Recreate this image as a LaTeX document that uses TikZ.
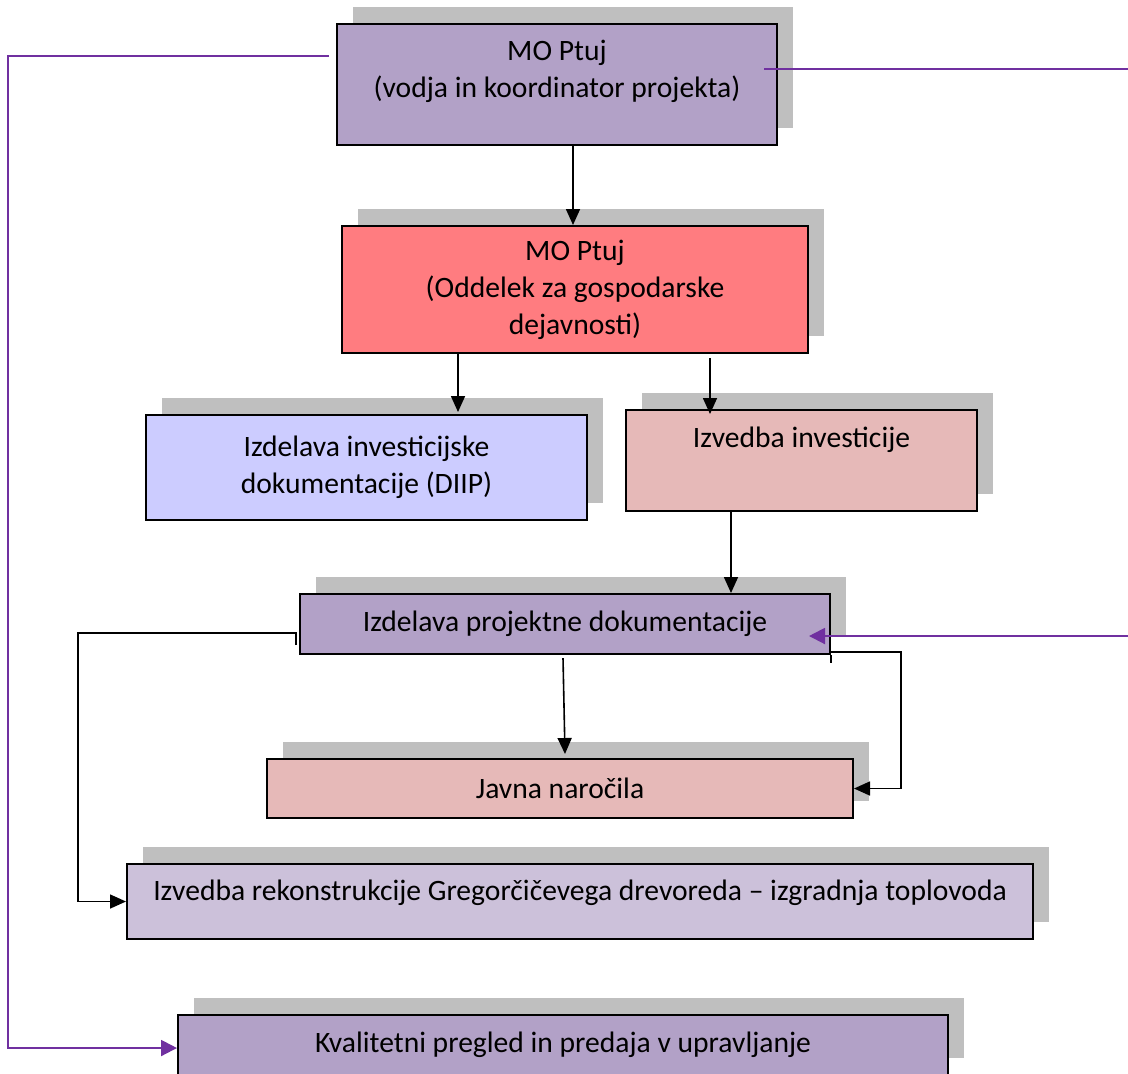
\documentclass[tikz,border=0pt]{standalone}
\usepackage{fontspec}
\setmainfont{Carlito}
\usetikzlibrary{arrows.meta,calc,shadows}
\definecolor{lilac}{HTML}{B2A1C7}
\definecolor{salmon}{HTML}{FF7C80}
\definecolor{periwinkle}{HTML}{CCCCFF}
\definecolor{rose}{HTML}{E6B9B8}
\definecolor{palelilac}{HTML}{CCC1DA}
\definecolor{shadowgray}{HTML}{BFBFBF}
\definecolor{linkpurple}{HTML}{7030A0}
\begin{document}
\begin{tikzpicture}[x=0.5pt,y=-0.5pt,
  box/.style={shape=rectangle,draw=black,line width=1pt,
    drop shadow={shadow xshift=8pt,shadow yshift=8.5pt,fill=shadowgray,opacity=1},
    font=\fontsize{14.8}{18.5}\selectfont,align=center,inner sep=0pt},
  txt/.style={font=\fontsize{14.8}{18.5}\selectfont,align=center,inner sep=0pt},
  arr/.style={line width=0.8pt,-{Triangle[length=8pt,width=7pt]}},
  pline/.style={draw=linkpurple,line width=1pt},
  parr/.style={pline,-{Triangle[length=8pt,width=8pt]}}]
\useasboundingbox (0,0) rectangle (1128,1073);

\node[box,fill=lilac,minimum width=220pt,minimum height=60.5pt] (koord) at (557,84.5) {};
\node[txt] (koordT) at (557,71) {MO Ptuj\\(vodja in koordinator projekta)};

\node[box,fill=salmon,minimum width=233pt,minimum height=63.5pt] (oddelek) at (575,289.5) {MO Ptuj\\(Oddelek za gospodarske\\dejavnosti)};

\node[box,fill=periwinkle,minimum width=220.5pt,minimum height=52.5pt] (dokum) at (366.5,467.5) {Izdelava investicijske\\dokumentacije (DIIP)};

\node[box,fill=rose,minimum width=175.5pt,minimum height=50.5pt] (izvedba) at (801.5,460.5) {};
\node[txt] (izvedbaT) at (801.5,440) {Izvedba investicije};

\node[box,fill=lilac,minimum width=265pt,minimum height=30pt] (projekt) at (565,624) {Izdelava projektne dokumentacije};

\node[box,fill=rose,minimum width=293pt,minimum height=29.5pt] (narocila) at (560,788.5) {Javna naročila};

\node[box,fill=palelilac,minimum width=453pt,minimum height=37.5pt] (rekon) at (580,901.5) {};
\node[txt] (rekonT) at (580,893) {Izvedba rekonstrukcije Gregorčičevega drevoreda – izgradnja toplovoda};

\node[box,fill=lilac,minimum width=385pt,minimum height=30pt] (pregled) at (563,1045) {Kvalitetni pregled in predaja v upravljanje};

% black connectors
\draw[arr] ($(koord.south)+(16,0)$) -- ($(oddelek.north)+(-2,0)$);
\draw[arr] ($(oddelek.south)+(-117,0)$) -- ($(dokum.north)+(91.5,-2)$);
\draw[arr] ($(oddelek.south)+(135,4)$) -- ($(izvedba.north)+(-91.5,5)$);
\draw[arr] ($(izvedba.south)+(-70.5,0)$) -- ($(projekt.north)+(166,0)$);
\draw[arr] ($(projekt.south)+(-2,3)$) -- ($(narocila.north)+(5,-4)$);
\draw[line width=0.8pt] (projekt.south east) -- ++(0,8);
\draw[arr] ($(projekt.south east)+(0,-3)$) -| ($(narocila.east)+(47,0)$) -- (narocila.east);
\draw[arr] ($(projekt.west)+(-3,21)$) -- ++(0,-12) -- ++(-218,0) |- (rekon.west);

% purple links
\coordinate (rEdgeA) at (1128,69);
\coordinate (rEdgeB) at (1128,636);
\draw[parr] ($(koord.west)+(-7,-28.5)$) -- ++(-321,0) |- ($(pregled.west)+(0,3)$);
\draw[pline] ($(koord.east)+(-14,-15.5)$) -- (rEdgeA);
\draw[parr] (rEdgeB) -- ($(projekt.east)+(-22,12)$);
\end{tikzpicture}
\end{document}
